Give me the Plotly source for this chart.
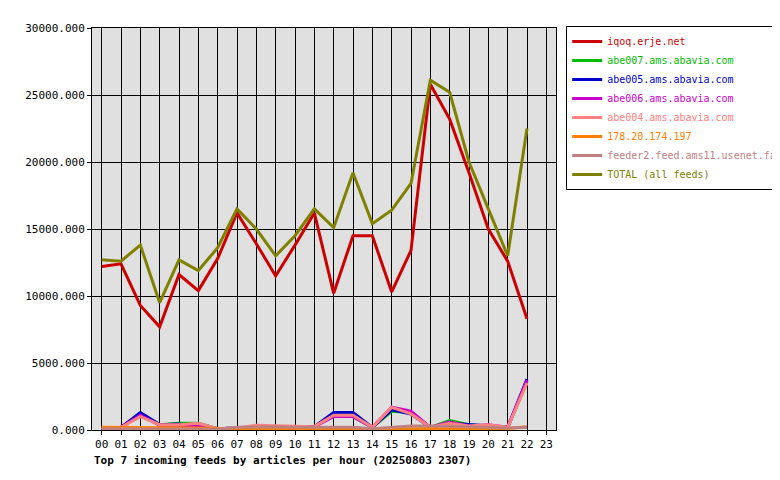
import plotly.graph_objects as go

hours = ["%02d" % h for h in range(24)]

iqoq = [12200, 12400, 9300, 7700, 11600, 10400, 12800, 16200, 13900, 11500, 13800, 16200,
        10200, 14500, 14500, 10300, 13400, 25800, 23200, 19200, 15000, 12600, 8300]
abe007 = [150, 200, 1100, 400, 500, 500, 100, 150, 250, 250, 250, 250,
          1100, 1000, 200, 1400, 1300, 200, 700, 400, 300, 200, 3600]
abe005 = [150, 200, 1300, 400, 450, 300, 100, 150, 250, 250, 250, 250,
          1300, 1300, 200, 1500, 1200, 200, 500, 400, 300, 200, 3800]
abe006 = [150, 200, 1100, 350, 350, 300, 100, 150, 250, 250, 250, 250,
          1000, 1000, 200, 1700, 1400, 200, 600, 300, 400, 200, 3700]
abe004 = [150, 200, 1000, 400, 400, 500, 100, 150, 350, 300, 250, 250,
          1100, 1100, 200, 1700, 1200, 200, 500, 300, 400, 200, 3500]
feed178 = [200, 200, 200, 200, 150, 150, 100, 100, 150, 150, 150, 150,
           150, 150, 100, 150, 100, 100, 150, 150, 100, 100, 250]
feeder2 = [100, 100, 100, 100, 100, 100, 50, 200, 250, 250, 200, 200,
           250, 200, 100, 200, 300, 300, 300, 250, 200, 150, 200]
total = [12700, 12600, 13800, 9500, 12700, 11900, 13600, 16500, 15000, 13000, 14500, 16500,
         15100, 19200, 15400, 16400, 18400, 26100, 25200, 20000, 16500, 13000, 22500]

series = [
    ("iqoq.erje.net", iqoq, "#cc0000"),
    ("abe007.ams.abavia.com", abe007, "#00bb00"),
    ("abe005.ams.abavia.com", abe005, "#0000cc"),
    ("abe006.ams.abavia.com", abe006, "#cc00cc"),
    ("abe004.ams.abavia.com", abe004, "#ff8080"),
    ("178.20.174.197", feed178, "#ff7f00"),
    ("feeder2.feed.ams11.usenet.farm", feeder2, "#c08080"),
    ("TOTAL (all feeds)", total, "#808000"),
]

font = "DejaVu Sans Mono"
fig = go.Figure()
for name, vals, col in series:
    fig.add_trace(go.Scatter(
        x=hours[:len(vals)], y=vals, mode="lines",
        name='<span style="color:%s">%s</span>' % (col, name),
        line=dict(color=col, width=3),
    ))

fig.update_layout(
    width=780, height=480,
    margin=dict(l=84, r=232, t=20, b=58, autoexpand=False),
    paper_bgcolor="white", plot_bgcolor="#e0e0e0",
    font=dict(family=font, size=11, color="black"),
    showlegend=True,
    legend=dict(x=1.022, y=1.005, xanchor="left", yanchor="top",
                bordercolor="black", borderwidth=1, bgcolor="white",
                font=dict(family=font, size=10), tracegroupgap=0,
                itemwidth=30, traceorder="normal"),
    annotations=[dict(text="<b>Top 7 incoming feeds by articles per hour (20250803 2307)</b>",
                      x=0, y=-30 / 402, xref="paper", yref="paper",
                      xanchor="left", yanchor="middle", showarrow=False,
                      font=dict(family=font, size=11))],
)
fig.update_xaxes(type="category", categoryarray=hours, range=[-0.5, 23.5],
                 showgrid=True, gridcolor="black", gridwidth=1,
                 showline=True, linecolor="black", mirror=True,
                 ticks="outside", ticklen=4, tickcolor="black")
fig.update_yaxes(range=[0, 30000], dtick=5000, tickformat=".3f",
                 showgrid=True, gridcolor="black", gridwidth=1,
                 showline=True, linecolor="black", mirror=True,
                 ticks="outside", ticklen=4, tickcolor="black", zeroline=False)

fig.write_html("out.html")
